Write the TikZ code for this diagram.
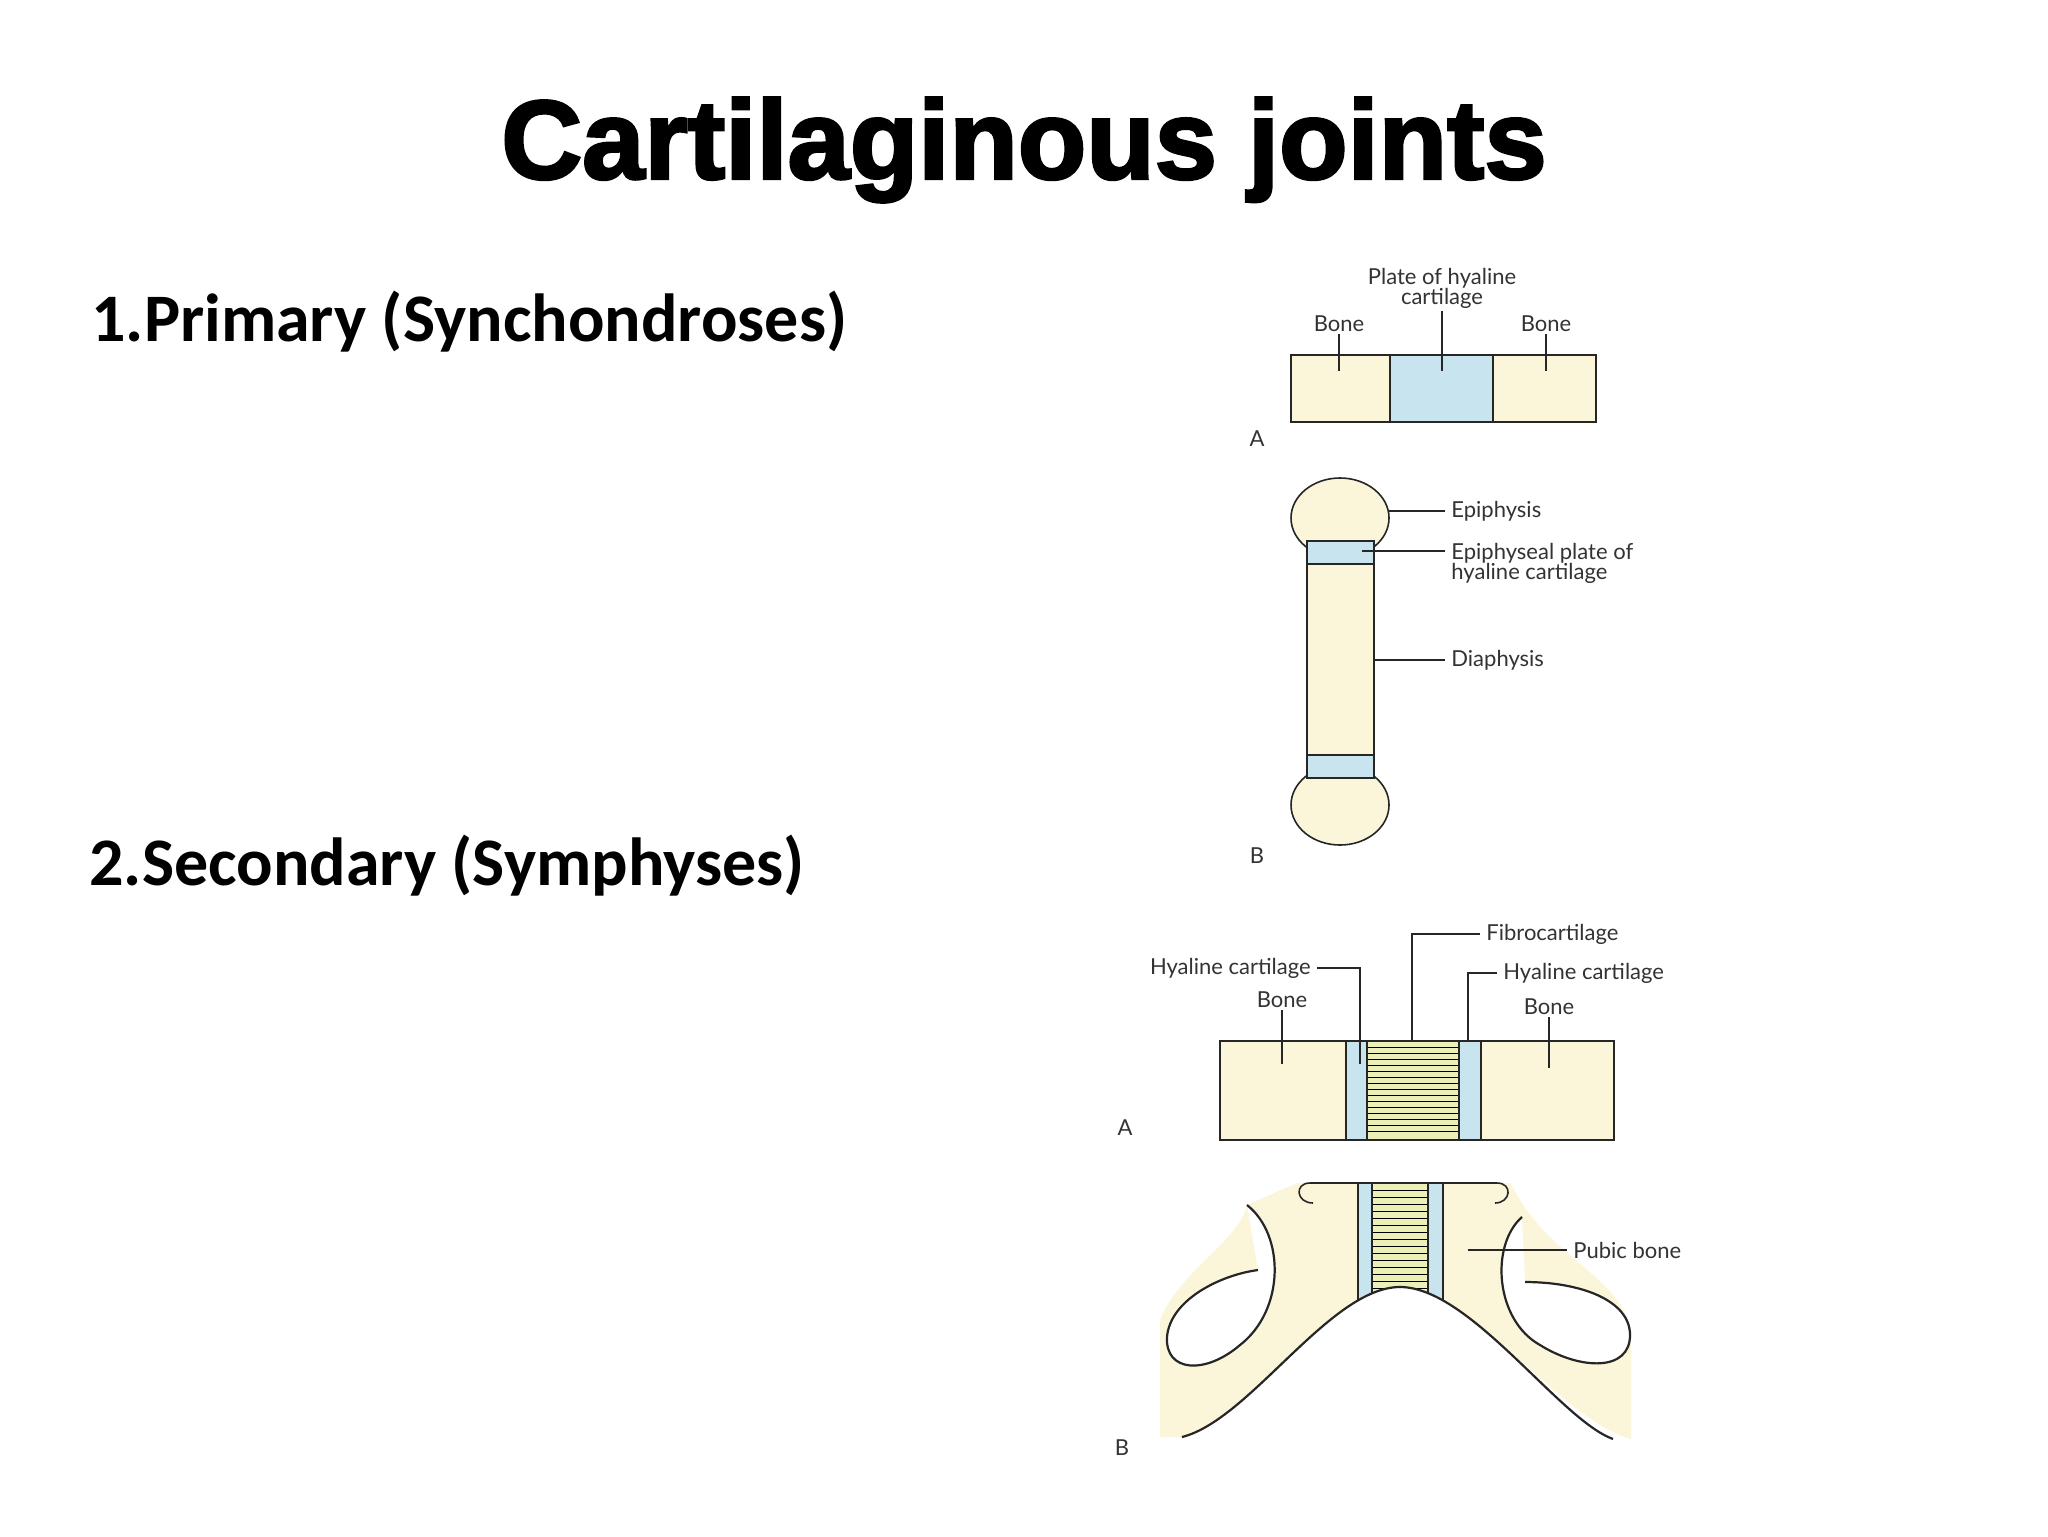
\documentclass[tikz,border=0pt]{standalone}
\usepackage{fontspec}
\setmainfont{Carlito}
\newfontfamily\titlefont[FakeBold=2.5]{Liberation Sans}
\newfontfamily\labfont{Lato}
\begin{document}
\begin{tikzpicture}[x=0.5pt,y=-0.5pt,
  lab/.style={font=\labfont\fontsize{11}{12}\selectfont, text=black!80, inner sep=1pt},
  lead/.style={line width=0.6pt, black!85},
  outl/.style={draw=black!85, line width=0.8pt},
  bonef/.style={fill=bonec},
  blue/.style={fill=bluec},
  head/.style={font=\bfseries\fontsize{34}{38}\selectfont, anchor=west, inner sep=0pt}]
\definecolor{bonec}{HTML}{FBF6DA}
\definecolor{bluec}{HTML}{C8E4EF}
\definecolor{fibc}{HTML}{EDEFB8}
\useasboundingbox (0,0) rectangle (2048,1536);
\fill[white] (0,0) rectangle (2048,1536);
\node[font=\titlefont\bfseries\fontsize{56}{62}\selectfont] (title) at (1024,150) {Cartilaginous joints};
\node[head] (p1) at (91,322) {1.Primary (Synchondroses)};
\node[head] (p2) at (89,866) {2.Secondary (Symphyses)};

% ---- upper A
\path[bonef] (1291,355) rectangle (1390,422);
\path[blue] (1390,355) rectangle (1493,422);
\path[bonef] (1493,355) rectangle (1596,422);
\draw[outl] (1291,355) rectangle (1596,422) (1390,355) -- (1390,422) (1493,355) -- (1493,422);
\node[lab] (ab1) at (1339,324) {Bone};
\node[lab] (ab2) at (1546,324) {Bone};
\node[lab, align=center] (apl) at (1442,288) {Plate of hyaline\\[-2pt]cartilage};
\coordinate (t1) at (1339,371); \coordinate (t2) at (1546,371); \coordinate (t3) at (1442,371);
\draw[lead] (ab1.south) -- (t1) (ab2.south) -- (t2) (apl.south) -- (t3);
\node[lab] (la) at (1257,439) {A};

% ---- upper B
\path[bonef,outl] (1340,518) ellipse [x radius=49, y radius=40];
\path[bonef,outl] (1340,805) ellipse [x radius=49, y radius=40];
\path[bonef] (1307,541) rectangle (1374,778);
\path[blue] (1307,541) rectangle (1374,564);
\path[blue] (1307,755) rectangle (1374,778);
\draw[outl] (1307,541) rectangle (1374,778) (1307,564) -- (1374,564) (1307,755) -- (1374,755);
\node[lab, anchor=west, inner sep=3pt] (ep) at (1445,511) {Epiphysis};
\node[lab, anchor=west, align=left, inner sep=3pt] (epl) at (1445,563) {Epiphyseal plate of\\[-2pt]hyaline cartilage};
\node[lab, anchor=west, inner sep=3pt] (dia) at (1445,660) {Diaphysis};
\coordinate (c1) at (1388,511); \coordinate (c2) at (1362,551); \coordinate (c3) at (1374,660);
\draw[lead] (c1) -- (ep.west) (c2) -- (ep.west |- c2) (c3) -- (dia.west);
\node[lab] (lb) at (1257,856) {B};

% ---- lower A
\path[bonef] (1220,1041) rectangle (1614,1140);
\path[blue] (1346,1041) rectangle (1367,1140);
\path[blue] (1459,1041) rectangle (1481,1140);
\path[fill=fibc] (1367,1041) rectangle (1459,1140);
\foreach \y in {1047,1053,...,1136} \draw[line width=0.5pt] (1367,\y) -- (1459,\y);
\draw[outl] (1220,1041) rectangle (1614,1140) (1346,1041) -- (1346,1140) (1367,1041) -- (1367,1140) (1459,1041) -- (1459,1140) (1481,1041) -- (1481,1140);
\node[lab, anchor=west, inner sep=3pt] (fib) at (1480,934) {Fibrocartilage};
\node[lab, anchor=east, inner sep=3pt] (hl) at (1317,968) {Hyaline cartilage};
\node[lab, anchor=west, inner sep=3pt] (hr) at (1497,973) {Hyaline cartilage};
\node[lab] (bl) at (1282,1000) {Bone};
\node[lab] (br) at (1549,1007) {Bone};
\coordinate (f1) at (1412,1041); \coordinate (h1) at (1360,1064); \coordinate (h2) at (1468,1041);
\coordinate (b1) at (1282,1064); \coordinate (b2) at (1549,1068);
\draw[lead] (f1) |- (fib.west) (h1) |- (hl.east) (h2) |- (hr.west) (bl.south) -- (b1) (br.south) -- (b2);
\node[lab] (la2) at (1125,1128) {A};

% ---- lower B
\path[bonef] (1297,1183) -- (1510,1183) -- (1523,1205)
  .. controls (1560,1260) and (1620,1280) .. (1631,1330) -- (1631,1439)
  .. controls (1560,1420) and (1470,1287) .. (1400,1287)
  .. controls (1330,1287) and (1250,1420) .. (1182,1437)
  -- (1160,1437) -- (1160,1320) .. controls (1180,1270) and (1240,1240) .. (1247,1205) -- cycle;
\path[blue] (1358,1183) rectangle (1372,1305);
\path[blue] (1428,1183) rectangle (1443,1305);
\path[fill=fibc] (1372,1183) rectangle (1428,1305);
\foreach \y in {1190,1197,...,1300} \draw[line width=0.5pt] (1372,\y) -- (1428,\y);
\draw[outl] (1358,1183) -- (1358,1305) (1372,1183) -- (1372,1305) (1428,1183) -- (1428,1305) (1443,1183) -- (1443,1305);
\fill[white] (1182,1437) .. controls (1250,1420) and (1330,1287) .. (1400,1287)
  .. controls (1470,1287) and (1560,1420) .. (1613,1439) -- (1613,1520) -- (1182,1520) -- cycle;
\draw[outl, line width=1.1pt] (1182,1437) .. controls (1250,1420) and (1330,1287) .. (1400,1287)
  .. controls (1470,1287) and (1560,1420) .. (1613,1439);
\draw[outl] (1313,1203) .. controls (1296,1203) and (1294,1183) .. (1310,1183) -- (1497,1183)
  .. controls (1513,1183) and (1511,1203) .. (1495,1203);
\fill[white] (1247,1205) .. controls (1285,1235) and (1285,1310) .. (1240,1345)
  .. controls (1205,1375) and (1165,1372) .. (1167,1337) .. controls (1170,1300) and (1220,1275) .. (1258,1270) -- cycle;
\fill[white] (1522,1217) .. controls (1490,1245) and (1495,1320) .. (1540,1345)
  .. controls (1580,1370) and (1630,1372) .. (1630,1335) .. controls (1630,1300) and (1580,1282) .. (1525,1282) -- cycle;
\draw[outl, line width=1.1pt] (1247,1205) .. controls (1285,1235) and (1285,1310) .. (1240,1345)
  .. controls (1205,1375) and (1165,1372) .. (1167,1337) .. controls (1170,1300) and (1220,1275) .. (1258,1270);
\draw[outl, line width=1.1pt] (1522,1217) .. controls (1490,1245) and (1495,1320) .. (1540,1345)
  .. controls (1580,1370) and (1630,1372) .. (1630,1335) .. controls (1630,1300) and (1580,1282) .. (1525,1282);
\node[lab, anchor=west, inner sep=3pt] (pub) at (1567,1250) {Pubic bone};
\coordinate (pb) at (1468,1250);
\draw[lead] (pb) -- (pub.west);
\node[lab] (lb2) at (1122,1448) {B};
\end{tikzpicture}
\end{document}
